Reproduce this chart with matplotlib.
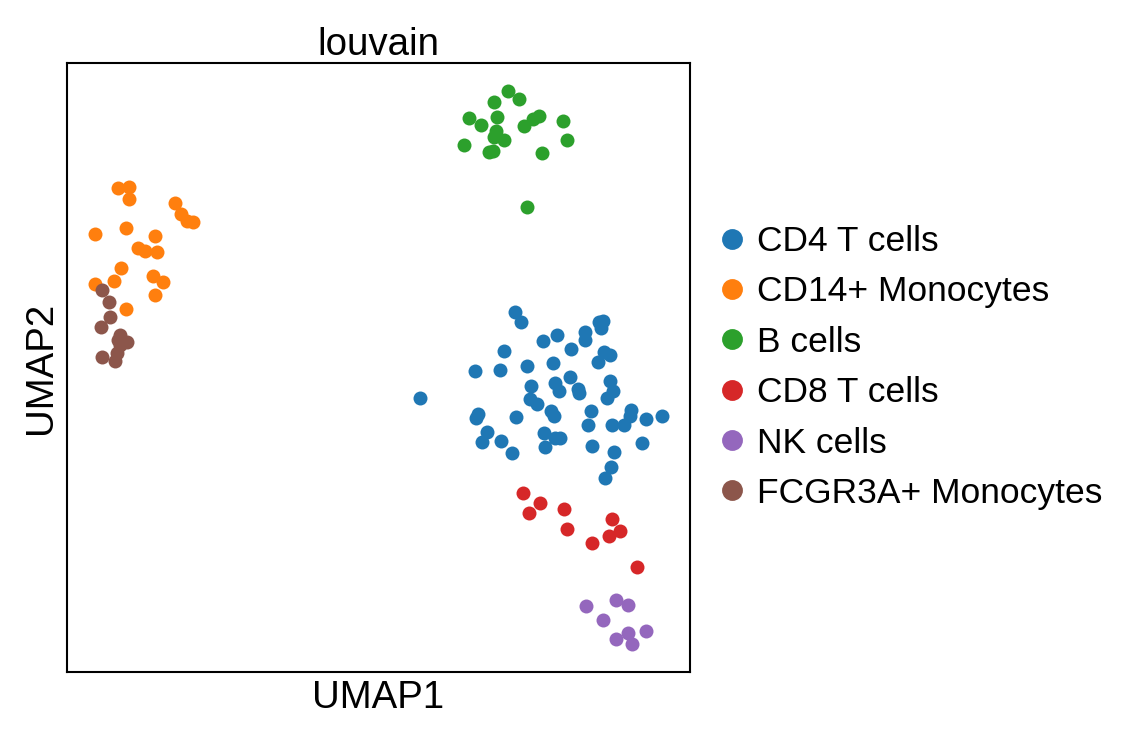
import numpy as np
import matplotlib
matplotlib.use("Agg")
from matplotlib import pyplot as plt
from matplotlib.lines import Line2D

plt.rcParams['font.family'] = ['Liberation Sans', 'DejaVu Sans']

# embedding coordinates (y grows downwards)
cd4_x = [516, 521.7, 543.3, 557.3, 586, 586, 600, 602.3, 604.3, 504.3, 571.7, 605, 610.7, 599.3,
         476, 501, 527.7, 553.3, 420.7, 531.7, 556, 559.3, 570.7, 579, 580, 611, 614.3, 608.3,
         531, 537.3, 551.7, 555, 479, 476.7, 516.7, 591.7, 632.3, 631, 646.7, 662.7, 589, 613.3,
         625, 487.3, 482.7, 501.7, 545, 556, 560.7, 545.7, 512.3, 592.7, 643.3, 615, 611.7, 606]
cd4_y = [312.3, 322.7, 341.7, 335, 332.3, 340.7, 322.3, 328.3, 321, 351.7, 349, 352.3, 355, 362.3,
         371.7, 370, 366.7, 363.3, 398.3, 386.7, 383.3, 391.7, 377.7, 389.3, 393.3, 381, 391.7, 398.3,
         399, 404.3, 411.7, 416.7, 414.3, 418.3, 417.3, 411.7, 410, 416.7, 419.3, 416.7, 425.7, 425,
         425, 432.3, 441.7, 441, 432.7, 437.7, 438.3, 447.3, 453.3, 446, 443.3, 452.3, 466.7, 478.3]

cd14_x = [117.3, 128.3, 128.3, 175, 180.7, 186.7, 193.3, 95, 125.7, 155, 137.3, 145, 156.7,
          120.7, 113.3, 153.3, 162.7, 95, 155, 125.7]
cd14_y = [189, 187.3, 199.3, 203.3, 215, 221.7, 222.3, 235, 228.3, 236.7, 248.3, 251.7, 252.3,
          268.3, 281.7, 276.7, 282.7, 285, 295.7, 309]

b_x = [508.3, 520, 494.3, 469.3, 481.7, 497.7, 496.7, 495, 505, 525, 533.3, 539.3, 563.3,
       567.7, 465, 490, 494, 542.3, 527.3]
b_y = [91.7, 100, 102.7, 119.3, 126, 118.3, 131.7, 138.3, 140.7, 126.7, 120, 117.3, 122.3,
       140.7, 146, 153.3, 151.7, 154.3, 207.3]

cd8_x = [523.3, 540.3, 529.3, 565, 567.7, 613.3, 620.7, 610, 593.3, 638.3]
cd8_y = [493.3, 502.7, 513.3, 509.3, 528.7, 519, 530.7, 536, 543.3, 566.7]

nk_x = [586.7, 617.3, 629, 604.3, 646.7, 629, 616.7, 633.3]
nk_y = [606, 600, 604.7, 620, 630.7, 632.7, 638.3, 644]

fcgr_x = [101.7, 109, 110, 100.7, 119.3, 126.7, 118, 116.7, 115, 101.7, 120]
fcgr_y = [291, 302.7, 317.3, 327.3, 335, 342.7, 340, 353.3, 361, 357.3, 345]

names = ['CD4 T cells', 'CD14+ Monocytes', 'B cells', 'CD8 T cells', 'NK cells', 'FCGR3A+ Monocytes']
colors = ['#1f77b4', '#ff7f0e', '#2ca02c', '#d62728', '#9467bd', '#8c564b']
xs = [cd4_x, cd14_x, b_x, cd8_x, nk_x, fcgr_x]
ys = [cd4_y, cd14_y, b_y, cd8_y, nk_y, fcgr_y]

fig = plt.figure(figsize=(1138 / 150, 739 / 150), dpi=150)
ax = fig.add_axes([67 / 1138, 1 - 672 / 739, 623 / 1138, 609 / 739])

for x, y, c in zip(xs, ys, colors):
    ax.scatter(x, y, s=45, c=c, linewidths=0)

ax.invert_yaxis()
ax.set_xticks([])
ax.set_yticks([])
for sp in ax.spines.values():
    sp.set_linewidth(1.0)

ax.set_title('louvain', fontsize=18.5, pad=3.5)
ax.set_xlabel('UMAP1', fontsize=18.4)
ax.set_ylabel('UMAP2', fontsize=18.4)

handles = [Line2D([], [], marker='o', linestyle='', color=c, markersize=9) for c in colors]
ax.legend(handles, names, loc='center left', bbox_to_anchor=(1.0, 0.5), frameon=False,
          fontsize=17, handlelength=1.0, handletextpad=0.2, labelspacing=0.49,
          borderpad=0.4, borderaxespad=0.285)

fig.savefig('out.png', dpi=150)
